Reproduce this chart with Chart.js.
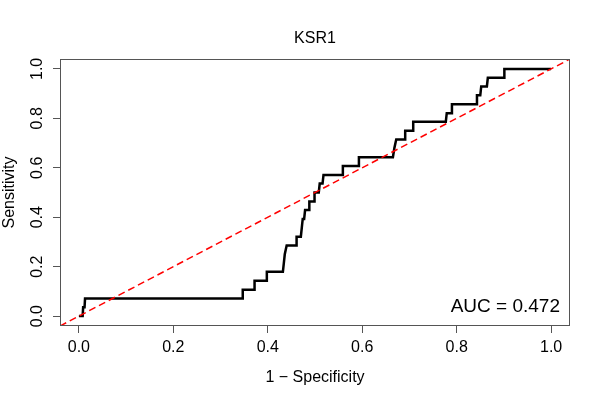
<!DOCTYPE html>
<html>
<head>
<meta charset="utf-8">
<script src="https://cdn.jsdelivr.net/npm/chart.js@4.4.1/dist/chart.umd.min.js"></script>
<style>
html, body { margin: 0; padding: 0; background: #fff; }
</style>
</head>
<body>
<canvas id="roc" width="600" height="400"></canvas>
<script>
// curva ROC (1 - especificidade, sensibilidade)
const fpr = [0, 0.008, 0.009, 0.012, 0.013, 0.347, 0.347, 0.372, 0.372, 0.398, 0.398, 0.432, 0.434, 0.436, 0.440,
    0.461, 0.461, 0.470, 0.472, 0.474, 0.477, 0.479, 0.488, 0.488, 0.499, 0.499, 0.508, 0.510, 0.516, 0.518,
    0.559, 0.559, 0.593, 0.593, 0.665, 0.668, 0.672, 0.691, 0.691, 0.708, 0.708, 0.777, 0.779, 0.790, 0.790,
    0.841, 0.843, 0.850, 0.852, 0.864, 0.866, 0.901, 0.901, 1.0];
const sens = [0, 0, 0.036, 0.036, 0.071, 0.071, 0.107, 0.107, 0.143, 0.143, 0.179, 0.179, 0.214, 0.250, 0.286,
    0.286, 0.321, 0.321, 0.357, 0.393, 0.393, 0.429, 0.429, 0.464, 0.464, 0.500, 0.500, 0.536, 0.536, 0.571,
    0.571, 0.607, 0.607, 0.643, 0.643, 0.679, 0.714, 0.714, 0.750, 0.750, 0.786, 0.786, 0.821, 0.821, 0.857,
    0.857, 0.893, 0.893, 0.929, 0.929, 0.964, 0.964, 1.0, 1.0];
const diagX = [-0.04, 1.04];
const diagY = [-0.04, 1.04];
const tickVals = [0, 0.2, 0.4, 0.6, 0.8, 1.0];
const titulo = 'KSR1';
const textoAuc = 'AUC = 0.472';

const fonte = 'Liberation Sans, Arial, Helvetica, sans-serif';

// caixa em volta do grafico, titulo centrado na area e texto do AUC
const caixaPlugin = {
    id: 'caixa',
    afterDraw(chart) {
        const { ctx, chartArea } = chart;
        ctx.save();
        ctx.strokeStyle = '#555';
        ctx.lineWidth = 1;
        ctx.strokeRect(chartArea.left + 0.5, chartArea.top + 0.5,
            chartArea.right - chartArea.left - 1, chartArea.bottom - chartArea.top - 1);
        ctx.fillStyle = '#000';
        ctx.font = '16px ' + fonte;
        ctx.textAlign = 'center';
        ctx.textBaseline = 'middle';
        ctx.fillText(titulo, (chartArea.left + chartArea.right) / 2, chartArea.top - 20);
        ctx.font = '19px ' + fonte;
        ctx.textAlign = 'right';
        ctx.textBaseline = 'alphabetic';
        ctx.fillText(textoAuc, chartArea.right - 10, chartArea.bottom - 14);
        ctx.restore();
    }
};

function eixo(tituloEixo, tamanho, horizontal) {
    return {
        type: 'linear',
        min: -0.04,
        max: 1.04,
        afterBuildTicks: (scale) => { scale.ticks = tickVals.map(v => ({ value: v })); },
        afterFit: (scale) => {
            if (horizontal) scale.height = tamanho; else scale.width = tamanho;
        },
        grid: { drawOnChartArea: false, drawTicks: true, tickLength: 7, tickColor: '#555' },
        border: { display: false },
        ticks: {
            color: '#000',
            font: { family: fonte, size: 16 },
            padding: horizontal ? 5 : 4,
            minRotation: horizontal ? 0 : 90,
            maxRotation: horizontal ? 0 : 90,
            crossAlign: horizontal ? 'near' : 'center',
            callback: (v) => Number(v).toFixed(1)
        },
        title: {
            display: true,
            text: tituloEixo,
            color: '#000',
            font: { family: fonte, size: 16 },
            padding: horizontal ? { top: 4, bottom: 13 } : { top: 0, bottom: 0 }
        }
    };
}

const ctx = document.getElementById('roc');
new Chart(ctx, {
    type: 'scatter',
    data: {
        datasets: [{
            label: 'diagonal',
            data: diagX.map((x, i) => ({ x: x, y: diagY[i] })),
            showLine: true,
            borderColor: '#ff0000',
            borderWidth: 1.5,
            borderDash: [7, 4],
            pointRadius: 0,
            order: 0
        }, {
            label: titulo,
            data: fpr.map((x, i) => ({ x: x, y: sens[i] })),
            showLine: true,
            borderColor: '#000',
            borderWidth: 2.5,
            pointRadius: 0,
            tension: 0,
            order: 1
        }]
    },
    options: {
        responsive: false,
        animation: false,
        devicePixelRatio: 1,
        layout: { padding: { top: 59, right: 30, left: 0, bottom: 0 } },
        scales: {
            x: eixo('1 \u2212 Specificity', 74, true),
            y: eixo('Sensitivity', 60, false)
        },
        plugins: {
            legend: { display: false },
            tooltip: { enabled: false },
            title: { display: false }
        }
    },
    plugins: [caixaPlugin]
});
</script>
</body>
</html>
